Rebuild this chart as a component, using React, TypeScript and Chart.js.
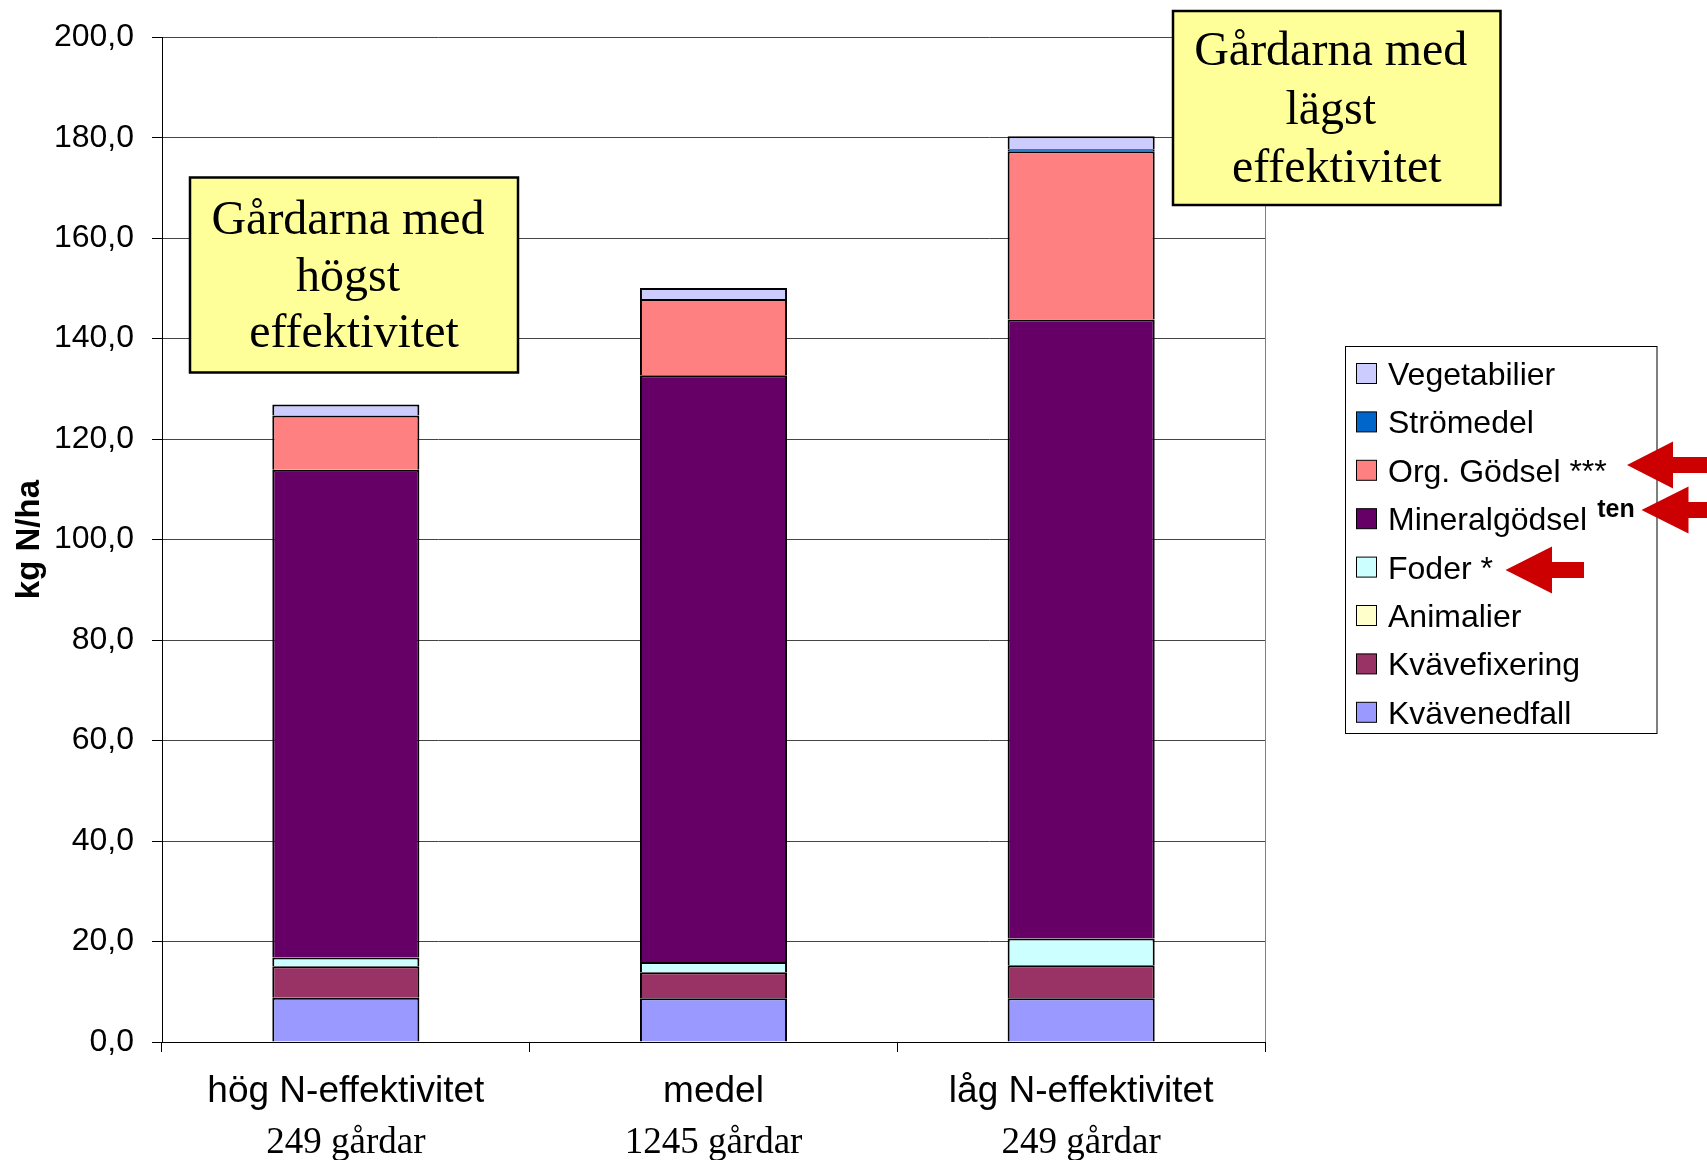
import React, { useEffect, useRef } from "react";
import { Chart, registerables } from "chart.js";

Chart.register(...registerables);

// ---- data ----
const categories = ["hög N-effektivitet", "medel", "låg N-effektivitet"];
const farmCounts = ["249 gårdar", "1245 gårdar", "249 gårdar"];

const kvavenedfall = [8.8, 8.7, 8.7];
const kvavefixering = [6.3, 5.2, 6.6];
const animalier = [0, 0, 0];
const foder = [1.7, 2.0, 5.3];
const mineralgodsel = [97.1, 116.8, 123.2];
const orgGodsel = [10.8, 15.2, 33.5];
const stromedel = [0, 0, 0.4];
const vegetabilier = [2.2, 2.2, 2.6];

// stacking order bottom -> top
const seriesNames = [
  "Kvävenedfall",
  "Kvävefixering",
  "Animalier",
  "Foder",
  "Mineralgödsel",
  "Org. Gödsel",
  "Strömedel",
  "Vegetabilier",
];
const seriesValues = [
  kvavenedfall,
  kvavefixering,
  animalier,
  foder,
  mineralgodsel,
  orgGodsel,
  stromedel,
  vegetabilier,
];
const seriesColors = [
  "#9999FF",
  "#993366",
  "#FFFFCC",
  "#CCFFFF",
  "#660066",
  "#FF8080",
  "#0066CC",
  "#CCCCFF",
];
const legendSuffix = ["", "", "", " *", "", " ***", "", ""];
const legendSuperscript = ["", "", "", "", "ten", "", "", ""];

const yMin = 0;
const yMax = 200;
const yStep = 20;
const yTitle = "kg N/ha";

const boxHigh = ["Gårdarna med ", "högst ", "effektivitet"];
const boxLow = ["Gårdarna med ", "lägst ", "effektivitet"];

const SANS = '"Liberation Sans", Arial, sans-serif';
const SERIF = '"Liberation Serif", "Times New Roman", serif';

function drawArrow(ctx: CanvasRenderingContext2D, tipX: number, tipY: number, headLen: number, headHalf: number, shaftHalf: number, endX: number) {
  ctx.beginPath();
  ctx.moveTo(tipX, tipY);
  ctx.lineTo(tipX + headLen, tipY - headHalf);
  ctx.lineTo(tipX + headLen, tipY - shaftHalf);
  ctx.lineTo(endX, tipY - shaftHalf);
  ctx.lineTo(endX, tipY + shaftHalf);
  ctx.lineTo(tipX + headLen, tipY + shaftHalf);
  ctx.lineTo(tipX + headLen, tipY + headHalf);
  ctx.closePath();
  ctx.fill();
}

function drawBox(ctx: CanvasRenderingContext2D, x: number, y: number, w: number, h: number, lines: string[], baselines: number[]) {
  ctx.save();
  ctx.fillStyle = "#FFFF99";
  ctx.fillRect(x, y, w, h);
  ctx.strokeStyle = "#000";
  ctx.lineWidth = 2.5;
  ctx.strokeRect(x, y, w, h);
  ctx.fillStyle = "#000";
  ctx.font = `48px ${SERIF}`;
  ctx.textAlign = "center";
  ctx.textBaseline = "alphabetic";
  lines.forEach((t, i) => ctx.fillText(t, x + w / 2, baselines[i]));
  ctx.restore();
}

const overlayPlugin = {
  id: "overlay",
  afterDraw(chart: any) {
    const ctx: CanvasRenderingContext2D = chart.ctx;
    const area = chart.chartArea;
    const xs = chart.scales.x;
    ctx.save();

    // right border of plot area
    ctx.strokeStyle = "#808080";
    ctx.lineWidth = 1;
    ctx.beginPath();
    ctx.moveTo(Math.round(area.right) + 0.5, area.top);
    ctx.lineTo(Math.round(area.right) + 0.5, area.bottom);
    ctx.stroke();

    // second line of category labels
    ctx.fillStyle = "#000";
    ctx.font = `37px ${SERIF}`;
    ctx.textAlign = "center";
    ctx.textBaseline = "alphabetic";
    farmCounts.forEach((t, i) => ctx.fillText(t, xs.getPixelForValue(i), 1153));

    // annotation boxes
    drawBox(ctx, 190, 177.5, 328, 195, boxHigh, [233.5, 290.5, 347]);
    drawBox(ctx, 1173, 11, 327.5, 194, boxLow, [65, 123.5, 181.5]);

    // legend
    const lx = 1345.5, ly = 346.5, lw = 311.5, lh = 387;
    ctx.fillStyle = "#fff";
    ctx.fillRect(lx, ly, lw, lh);
    ctx.strokeStyle = "#000";
    ctx.lineWidth = 1;
    ctx.strokeRect(lx, ly, lw, lh);
    const datasets = chart.data.datasets;
    const n = datasets.length;
    for (let k = 0; k < n; k++) {
      const di = n - 1 - k;
      const ds = datasets[di];
      const cy = 373.5 + k * 48.4;
      ctx.fillStyle = ds.backgroundColor;
      ctx.fillRect(1356.5, cy - 10, 20, 20);
      ctx.strokeStyle = "#000";
      ctx.lineWidth = 1;
      ctx.strokeRect(1356.5, cy - 10, 20, 20);
      ctx.fillStyle = "#000";
      ctx.font = `32px ${SANS}`;
      ctx.textAlign = "left";
      ctx.textBaseline = "alphabetic";
      const label = ds.label + legendSuffix[di];
      ctx.fillText(label, 1388, cy + 11.5);
      if (legendSuperscript[di]) {
        const w = ctx.measureText(label).width;
        ctx.font = `bold 25px ${SANS}`;
        ctx.fillText(legendSuperscript[di], 1388 + w + 10, cy - 2);
      }
    }

    // red arrows
    ctx.fillStyle = "#CC0000";
    drawArrow(ctx, 1627, 465, 46, 23.5, 8, 1707);
    drawArrow(ctx, 1641.5, 510, 47, 23.5, 8, 1710);
    drawArrow(ctx, 1505.5, 570, 46.5, 23.5, 8, 1584);

    ctx.restore();
  },
};

export default function App() {
  const canvasRef = useRef<HTMLCanvasElement>(null);

  useEffect(() => {
    if (!canvasRef.current) return;
    const chart = new Chart(canvasRef.current, {
      type: "bar",
      data: {
        labels: categories,
        datasets: seriesNames.map((name, i) => ({
          label: name,
          data: seriesValues[i],
          backgroundColor: seriesColors[i],
          borderColor: "#000",
          borderWidth: 2,
          borderSkipped: "start",
          categoryPercentage: 0.8,
          barPercentage: 0.5,
        })),
      },
      options: {
        responsive: false,
        animation: false,
        devicePixelRatio: 1,
        layout: { padding: { left: 0, right: 442, top: 33, bottom: 0 } },
        plugins: {
          legend: { display: false },
          tooltip: { enabled: false },
          title: { display: false },
        },
        scales: {
          x: {
            stacked: true,
            grid: {
              display: true,
              color: "rgba(0,0,0,0)",
              tickColor: "#000",
              tickLength: 10,
              drawOnChartArea: false,
            },
            border: { color: "#000", width: 1 },
            ticks: {
              color: "#000",
              font: { family: SANS, size: 37 },
              padding: 18,
              maxRotation: 0,
              autoSkip: false,
            },
            afterFit: (scale: any) => {
              scale.height = 118;
            },
          },
          y: {
            stacked: true,
            min: yMin,
            max: yMax,
            grid: {
              color: "#444",
              lineWidth: 1,
              tickColor: "#000",
              tickLength: 10,
            },
            border: { color: "#000", width: 1 },
            ticks: {
              stepSize: yStep,
              color: "#000",
              font: { family: SANS, size: 32 },
              padding: 18,
              callback: (v: any) => Number(v).toFixed(1).replace(".", ","),
            },
            title: {
              display: true,
              text: yTitle,
              color: "#000",
              font: { family: SANS, size: 33, weight: "bold" },
              padding: { top: 10, bottom: 0 },
            },
            afterFit: (scale: any) => {
              scale.width = 162;
            },
          },
        },
      },
      plugins: [overlayPlugin],
    });
    return () => chart.destroy();
  }, []);

  return (
    <div style={{ position: "absolute", left: 0, top: 0, width: 1707, height: 1160, background: "#fff" }}>
      <canvas ref={canvasRef} width={1707} height={1160} style={{ display: "block" }} />
    </div>
  );
}
